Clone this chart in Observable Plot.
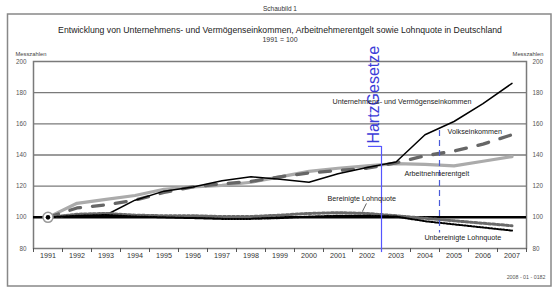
<!DOCTYPE html>
<html>
<head>
<meta charset="utf-8">
<script src="https://cdn.jsdelivr.net/npm/d3@7"></script>
<script src="https://cdn.jsdelivr.net/npm/@observablehq/plot@0.6"></script>
<style>
  html, body { margin: 0; padding: 0; background: #fff; }
  svg { display: block; }
</style>
</head>
<body>
<div id="chart"></div>
<script>
// ---- data ----
const years = [1991, 1992, 1993, 1994, 1995, 1996, 1997, 1998, 1999, 2000, 2001, 2002, 2003, 2004, 2005, 2006, 2007];
const unternehmen = [100, 101, 101.5, 111, 116.8, 119.5, 123.5, 126, 124.5, 122.5, 128, 132, 135.5, 153, 161.5, 173, 186];
const volkseinkommen = [100, 106, 108, 111, 116, 119.5, 121.5, 123, 126, 128.5, 130, 131.5, 135, 139.5, 142.5, 147, 153];
const arbeitnehmer = [100, 109, 111.5, 114, 118, 119.5, 120.5, 122.5, 126, 129.5, 131.5, 133, 134.5, 134, 133, 136, 139];
const bereinigt = [100, 102, 102.5, 101.4, 101, 101, 100.5, 100.5, 101.4, 102.5, 103, 102.5, 101, 99.4, 97.8, 96.2, 94.6];
const unbereinigt = [100, 101, 101.5, 100.5, 100, 99.5, 99, 99, 99.5, 100.5, 101, 101, 100.5, 97.5, 95.5, 93.5, 91.5];
const yTicks = [80, 100, 120, 140, 160, 180, 200];
const gridValues = [120, 140, 160, 180];
const bandEdges = [1990.5, 1991.5, 1992.5, 1993.5, 1994.5, 1995.5, 1996.5, 1997.5, 1998.5, 1999.5, 2000.5, 2001.5, 2002.5, 2003.5, 2004.5, 2005.5, 2006.5, 2007.5];

const title = "Entwicklung von Unternehmens- und Vermögenseinkommen, Arbeitnehmerentgelt sowie Lohnquote in Deutschland";
const subtitle = "1991 = 100";
const figLabel = "Schaubild 1";
const unitLabel = "Messzahlen";
const footer = "2008 - 01 - 0182";

// annotation labels (year, value, text)
const seriesLabels = [
  {x: 2000.81, y: 174.3, text: "Unternehmens- und Vermögenseinkommen"},
  {x: 2004.78, y: 155.1, text: "Volkseinkommen"},
  {x: 2003.29, y: 128.1, text: "Arbeitnehmerentgelt"},
  {x: 2000.64, y: 112.1, text: "Bereinigte Lohnquote"},
  {x: 2003.98, y: 87.1, text: "Unbereinigte Lohnquote"}
];
const leader = [{x1: 2001.98, y1: 108.9, x2: 2001.84, y2: 103.7}];
const hartz = {x: 2002.5, xText: 2002.25, yTop: 145.5, yText: 147.3, yBottom: 77.4, text: "HartzGesetze"};
const hartz2 = {x: 2004.5, yTop: 155.7, yBottom: 90};

const rows = (vals) => years.map((yr, i) => ({year: yr, value: vals[i]}));

const font = "Liberation Sans, Arial, sans-serif";

const plot = Plot.plot({
  width: 560,
  height: 297,
  marginTop: 61,
  marginBottom: 49,
  marginLeft: 33,
  marginRight: 34,
  style: {fontFamily: font, background: "#fff", overflow: "visible"},
  x: {domain: [1990.5, 2007.5], axis: null},
  y: {domain: [80, 200], axis: null},
  marks: [
    Plot.ruleY(gridValues, {stroke: "#7a7a7a", strokeWidth: 1.3}),
    Plot.frame({stroke: "#7a7a7a", strokeWidth: 1.5}),
    Plot.axisX(bandEdges, {tickSize: 4, tickFormat: () => "", stroke: "#555", label: null}),
    Plot.axisX(years, {tickSize: 0, tickPadding: 4, tickFormat: d => String(d), fontSize: 7.2, fill: "#333", label: null}),
    Plot.axisY(yTicks, {anchor: "left", tickSize: 0, tickPadding: 7, fontSize: 6.3, fill: "#555", label: null}),
    Plot.axisY(yTicks, {anchor: "right", tickSize: 0, tickPadding: 6, fontSize: 6.3, fill: "#555", label: null}),
    // reference line at 100
    Plot.ruleY([100], {stroke: "#000", strokeWidth: 2.5}),
    // series
    Plot.line(rows(arbeitnehmer), {x: "year", y: "value", stroke: "#ababab", strokeWidth: 3.2}),
    Plot.line(rows(volkseinkommen), {x: "year", y: "value", stroke: "#666", strokeWidth: 3.3, strokeDasharray: "11,12"}),
    Plot.line(rows(unternehmen), {x: "year", y: "value", stroke: "#000", strokeWidth: 1.5}),
    Plot.line(rows(bereinigt), {x: "year", y: "value", stroke: "#6a6a6a", strokeWidth: 3, strokeDasharray: "2.5,2"}),
    Plot.line(rows(unbereinigt), {x: "year", y: "value", stroke: "#000", strokeWidth: 2, strokeDasharray: "1.5,1.5"}),
    // start marker
    Plot.dot([{year: years[0], value: 100}], {x: "year", y: "value", r: 5, fill: "#fff", stroke: "#999", strokeWidth: 1.5}),
    Plot.dot([{year: years[0], value: 100}], {x: "year", y: "value", r: 2.3, fill: "#000"}),
    // Hartz lines
    Plot.ruleX([hartz], {x: "x", y1: "yTop", y2: "yBottom", stroke: "#5555ff", strokeWidth: 1.2}),
    Plot.ruleY([hartz], {y: "yTop", x1: 2002.05, x2: "x", stroke: "#5555ff", strokeWidth: 1.2}),
    Plot.ruleX([hartz2], {x: "x", y1: "yTop", y2: "yBottom", stroke: "#4a5ad8", strokeWidth: 1.2, strokeDasharray: "6,4"}),
    Plot.text([hartz], {x: "xText", y: "yText", text: "text", rotate: -90, textAnchor: "start", lineAnchor: "middle", fontSize: 16, fill: "#3c3cd8"}),
    // series labels
    Plot.text(seriesLabels, {x: "x", y: "y", text: "text", textAnchor: "start", fontSize: 7.2, fill: "#222"}),
    Plot.link(leader, {x1: "x1", y1: "y1", x2: "x2", y2: "y2", stroke: "#333", strokeWidth: 0.8}),
    // titles
    Plot.text([title], {frameAnchor: "top", dy: -35, fontSize: 8.7, fill: "#222"}),
    Plot.text([subtitle], {frameAnchor: "top", dy: -24, fontSize: 7, fill: "#333"}),
    Plot.text([figLabel], {frameAnchor: "top", dy: -55.5, fontSize: 6.5, fill: "#333"}),
    Plot.text([unitLabel], {frameAnchor: "top-left", dx: -18, dy: -10, textAnchor: "start", fontSize: 5.8, fill: "#444"}),
    Plot.text([unitLabel], {frameAnchor: "top-right", dx: 17, dy: -10, textAnchor: "end", fontSize: 5.8, fill: "#444"}),
    Plot.text([footer], {frameAnchor: "bottom-right", dx: 19, dy: 30, textAnchor: "end", fontSize: 5.3, fill: "#555"})
  ]
});

// outer figure border
d3.select(plot).insert("rect", ":first-child")
  .attr("x", 7.5).attr("y", 14).attr("width", 543.5).attr("height", 272)
  .attr("fill", "none").attr("stroke", "#888").attr("stroke-width", 1.5);

document.getElementById("chart").appendChild(plot);
</script>
</body>
</html>
